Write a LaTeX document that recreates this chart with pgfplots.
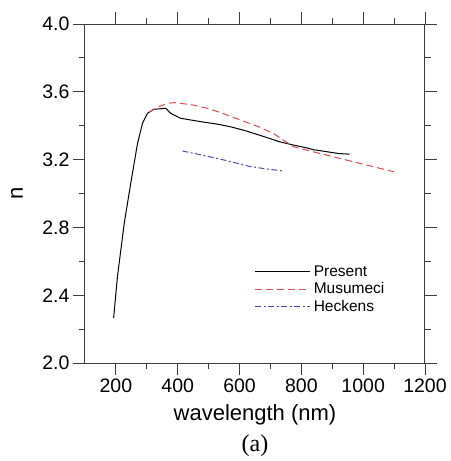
\documentclass[border=0pt]{standalone}
\usepackage{fontspec}
\setmainfont{Liberation Sans}
\newfontfamily\serifcap{Liberation Serif}
\usepackage{pgfplots}
\pgfplotsset{compat=1.18}
\definecolor{musRed}{RGB}{222,75,75}
\definecolor{heckBlue}{RGB}{75,75,180}
\definecolor{axInk}{RGB}{60,60,60}
\begin{document}
\begin{tikzpicture}
\begin{axis}[
  scale only axis,
  width=340pt, height=339pt,
  xmin=100, xmax=1200, ymin=2.0, ymax=4.0,
  xtick={200,400,...,1200},
  ytick={2.0,2.4,...,4.01},
  minor x tick num=1, minor y tick num=1,
  tick align=outside,
  major tick length=12pt, minor tick length=6pt,
  tick style={axInk, line width=0.9pt},
  axis line style={axInk, line width=1pt},
  xticklabel style={font=\fontsize{19.5}{22}\selectfont},
  yticklabel style={font=\fontsize{19.5}{22}\selectfont},
  /pgf/number format/assume math mode=true,
  /pgf/number format/1000 sep={},
  yticklabel={\pgfmathprintnumber[fixed, fixed zerofill, precision=1]{\tick}},
  xlabel={wavelength (nm)},
  ylabel={n},
  xlabel style={font=\fontsize{22}{26}\selectfont, at={(rel axis cs:0.5,0)},
    anchor=center, yshift=-52pt},
  ylabel style={font=\fontsize{22}{26}\selectfont, at={(rel axis cs:0,0.5)},
    anchor=center, yshift=68pt},
  legend style={draw=none, fill=none, font=\fontsize{15.5}{18}\selectfont,
    at={(rel axis cs:0.49,0.30)}, anchor=north west, row sep=1pt,
    nodes={inner xsep=3pt}},
  legend cell align=left,
  legend image code/.code={\draw[#1] (0pt,0pt) -- (55pt,0pt);},
  clip=false,
]
\addplot[black, line width=1pt] coordinates {
  (192.6,2.265) (205,2.51) (227,2.825) (248,3.06) (270,3.296) (286,3.414)
  (302,3.473) (323,3.497) (345,3.500) (361,3.503) (366,3.495) (377,3.473)
  (409,3.444) (474,3.424) (532,3.408) (570,3.394) (620,3.370) (680,3.335)
  (730,3.305) (774,3.286) (820,3.268) (840,3.258) (881,3.247) (920,3.236)
  (956,3.232)
};
\addlegendentry{Present}
\addplot[musRed, line width=1pt, dash pattern=on 7pt off 4pt] coordinates {
  (307,3.48) (330,3.505) (366,3.532) (388,3.536) (409,3.532) (450,3.522)
  (495,3.503) (550,3.470) (602,3.434) (660,3.395) (709,3.355) (774,3.276)
  (830,3.250) (881,3.227) (940,3.200) (989,3.178) (1040,3.155) (1100,3.128)
};
\addlegendentry{Musumeci}
\addplot[heckBlue, line width=1pt, dash pattern=on 6pt off 2.5pt on 2pt off 2.5pt] coordinates {
  (415,3.251) (480,3.226) (549,3.198) (635,3.159) (690,3.144) (742,3.133)
};
\addlegendentry{Heckens}
\node[font=\serifcap\fontsize{24}{28}\selectfont, anchor=south]
  at (rel axis cs:0.5,0) [yshift=-97pt] {(a)};
% page bounds matching the reference margins
\path (rel axis cs:0,1) ++(-85pt,24pt) coordinate (tl);
\path (rel axis cs:1,0) ++(22pt,-98pt) coordinate (br);
\path (tl) rectangle (br);
\end{axis}
\end{tikzpicture}
\end{document}
